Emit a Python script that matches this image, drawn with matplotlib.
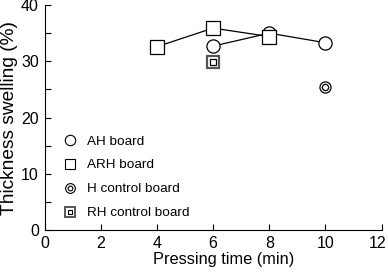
import matplotlib
matplotlib.use("Agg")
import matplotlib.pyplot as plt
import matplotlib.transforms as mtransforms
import numpy as np

plt.rcParams['font.family'] = ['Liberation Sans', 'DejaVu Sans']

# Thickness swelling (%) vs pressing time (min)
ah_time = [6, 8, 10]
ah_ts = [32.7, 35.0, 33.3]
ah_err = [0.6, 0.6, 0.5]

arh_time = [4, 6, 8]
arh_ts = [32.6, 35.9, 34.4]
arh_err = [0.7, 0.7, 0.6]

h_time = [10]
h_ts = [25.4]
h_err = [0.8]

rh_time = [6]
rh_ts = [29.8]
rh_err = [0.6]

fig = plt.figure(figsize=(3.88, 2.72), dpi=100)
ax = fig.add_axes([0.1147, 0.1544, 0.869, 0.827])

ms = 9.5
mk = dict(color='black', markerfacecolor='white', markeredgecolor='black',
          markeredgewidth=0.9, lw=0.9, capsize=0, elinewidth=0.9)

ax.errorbar(ah_time, ah_ts, yerr=ah_err, marker='o', ms=ms, zorder=3, **mk)
ax.errorbar(arh_time, arh_ts, yerr=arh_err, marker='s', ms=ms, zorder=4, **mk)
ax.errorbar(h_time, h_ts, yerr=h_err, marker='o', ms=ms - 1.5, ls='none', zorder=3, **mk)
ax.plot(h_time, h_ts, marker='o', ms=4.5, ls='none', mfc='white', mec='black',
        mew=0.9, zorder=5)
ax.errorbar(rh_time, rh_ts, yerr=rh_err, marker='s', ms=ms - 1, ls='none',
            zorder=3, color='black', markerfacecolor='white', markeredgecolor='#555555',
            markeredgewidth=1.6, capsize=0, elinewidth=0.9)
ax.plot(rh_time, rh_ts, marker='s', ms=4, ls='none', mfc='white', mec='black',
        mew=0.9, zorder=5)

# legend handles
h_ah, = ax.plot([], [], marker='o', ms=7.5, ls='none', mfc='white', mec='black', mew=0.8)
h_arh, = ax.plot([], [], marker='s', ms=7.5, ls='none', mfc='white', mec='black', mew=0.8)
h_h1, = ax.plot([], [], marker='o', ms=7, ls='none', mfc='white', mec='black', mew=0.8)
h_h2, = ax.plot([], [], marker='o', ms=3.4, ls='none', mfc='white', mec='black', mew=0.8)
h_r1, = ax.plot([], [], marker='s', ms=7, ls='none', mfc='white', mec='#555555', mew=1.4)
h_r2, = ax.plot([], [], marker='s', ms=3.2, ls='none', mfc='white', mec='black', mew=0.8)

ax.legend([h_ah, h_arh, (h_h1, h_h2), (h_r1, h_r2)],
          ['AH board', 'ARH board', 'H control board', 'RH control board'],
          loc='lower left', bbox_to_anchor=(0.025, 0.0), frameon=False,
          fontsize=9.7, handlelength=1.0, handletextpad=0.7, labelspacing=0.85,
          borderaxespad=0.4)

ax.set_xlim(0, 12)
ax.set_ylim(0, 40)
ax.set_xticks(np.arange(0, 13, 2))
ax.set_yticks(np.arange(0, 41, 10))
ax.set_yticks(np.arange(5, 40, 10), minor=True)
ax.tick_params(direction='in', length=4, width=0.8, labelsize=11.5, pad=4)
ax.tick_params(which='minor', direction='in', length=4, width=0.8)
for s in ['top', 'right']:
    ax.spines[s].set_visible(False)
for s in ['left', 'bottom']:
    ax.spines[s].set_linewidth(0.8)

# last x tick label sits slightly left of its tick in the reference
last = ax.get_xticklabels()[-1]
last.set_transform(last.get_transform() +
                   mtransforms.ScaledTranslation(-4 / 100, 0, fig.dpi_scale_trans))

ax.set_xlabel('Pressing time (min)', fontsize=11.8, labelpad=4)
ax.xaxis.set_label_coords(0.53, -0.1)
ax.xaxis.label.set_va('top')
ax.set_ylabel('Thickness swelling (%)', fontsize=13.8, labelpad=2)

fig.savefig('out.png', dpi=100)
